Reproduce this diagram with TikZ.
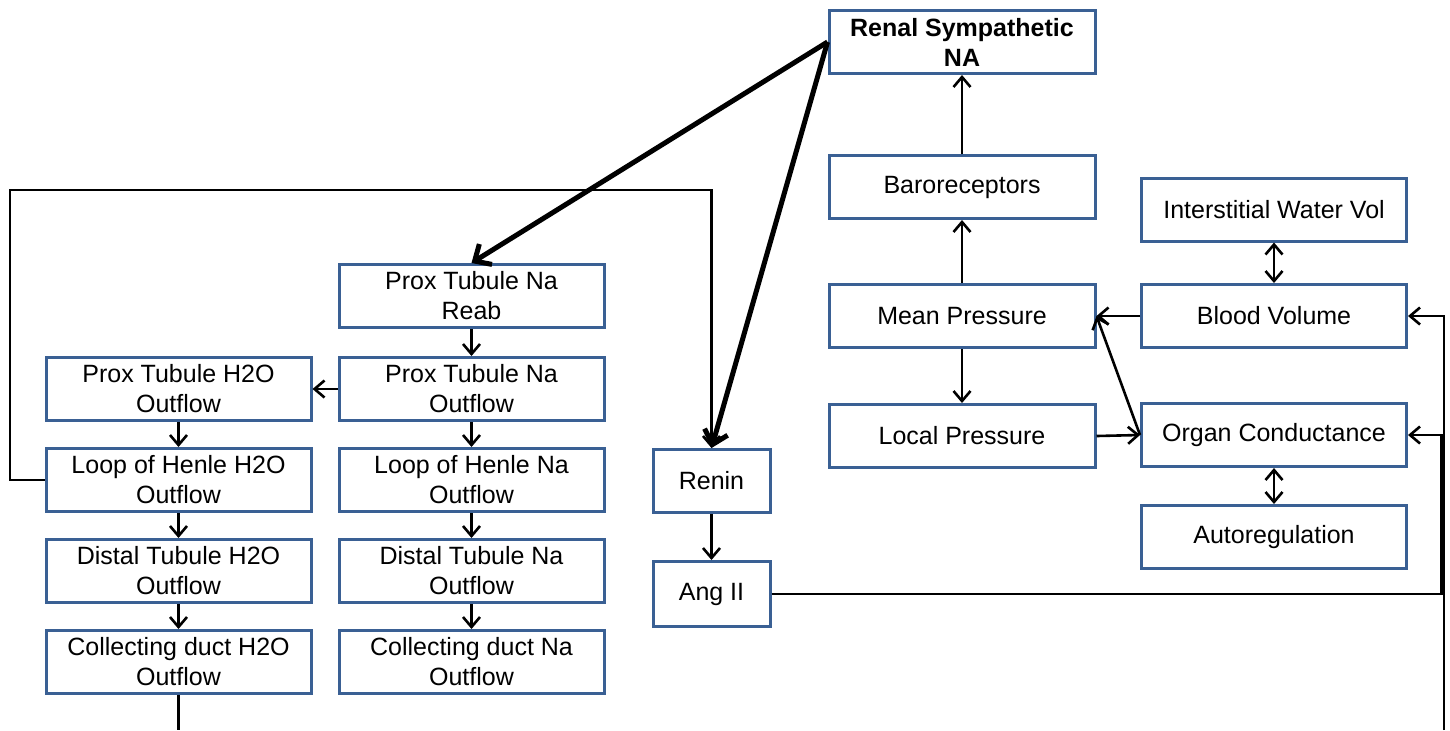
\documentclass[tikz,border=0pt]{standalone}
\usepackage{fontspec}
\setmainfont{Liberation Sans}
\usetikzlibrary{arrows.meta}
\definecolor{boxblue}{RGB}{58,96,148}
\begin{document}
\begin{tikzpicture}[x=0.5pt,y=-0.5pt,
  box/.style={draw=boxblue, line width=1.5pt, fill=white, minimum width=132.5pt, minimum height=31.5pt,
    inner sep=0pt, align=center, font=\fontsize{12.5}{15}\selectfont},
  sbox/.style={box, minimum width=58.5pt},
  conn/.style={line width=1.3pt, -{Straight Barb[length=5pt,width=8.5pt,line width=1.3pt]}},
  dconn/.style={line width=1.3pt, {Straight Barb[length=5pt,width=8.5pt,line width=1.3pt]}-{Straight Barb[length=5pt,width=8.5pt,line width=1.3pt]}},
  tconn/.style={line width=2.5pt, -{Straight Barb[length=6.5pt,width=12pt,line width=2.5pt]}},
  plain/.style={line width=1.3pt}]
\useasboundingbox (0,0) rectangle (1450,730);
% nodes
\node[box, minimum width=133pt, font=\bfseries\fontsize{12.5}{15}\selectfont] (rsna) at (962,42) {Renal Sympathetic\\NA};
\node[box, minimum width=133pt] (baro) at (962,187) {Baroreceptors};
\node[box] (iwv) at (1274,209.5) {Interstitial Water Vol};
\node[box] (ptnr) at (471.5,296) {Prox Tubule Na\\Reab};
\node[box, minimum width=133pt] (mp) at (962,316) {Mean Pressure};
\node[box] (bv) at (1274,316) {Blood Volume};
\node[box] (pth) at (178.5,389) {Prox Tubule H2O\\Outflow};
\node[box] (ptn) at (471.5,389) {Prox Tubule Na\\Outflow};
\node[box, minimum width=133pt] (lp) at (962,436) {Local Pressure};
\node[box] (oc) at (1274,435) {Organ Conductance};
\node[box] (lhh) at (178.5,480) {Loop of Henle H2O\\Outflow};
\node[box] (lhn) at (471.5,480) {Loop of Henle Na\\Outflow};
\node[sbox] (renin) at (711.5,481) {Renin};
\node[box] (auto) at (1274,537) {Autoregulation};
\node[box] (dth) at (178.5,571) {Distal Tubule H2O\\Outflow};
\node[box] (dtn) at (471.5,571) {Distal Tubule Na\\Outflow};
\node[sbox, minimum height=32.5pt] (ang) at (711.5,594) {Ang II};
\node[box] (cdh) at (178.5,662) {Collecting duct H2O\\Outflow};
\node[box] (cdn) at (471.5,662) {Collecting duct Na\\Outflow};
% coordinates
\coordinate (lk) at (10,190);
\coordinate (bl) at (178.5,730);
\coordinate (br) at (1444,730);
\coordinate (ar) at (1441.5,594);
% left loop
\draw[conn] (lhh.west) -| (lk) -| (renin.north);
% thick arrows
\draw[tconn] (rsna.west) -- (ptnr.north);
\draw[tconn] (rsna.west) -- (renin.north);
% chains
\draw[conn] (ptnr) -- (ptn);
\draw[conn] (ptn) -- (pth);
\draw[conn] (pth) -- (lhh);
\draw[conn] (lhh) -- (dth);
\draw[conn] (dth) -- (cdh);
\draw[conn] (ptn) -- (lhn);
\draw[conn] (lhn) -- (dtn);
\draw[conn] (dtn) -- (cdn);
\draw[conn] (renin) -- (ang);
% right part
\draw[conn] (baro) -- (rsna);
\draw[conn] (mp) -- (baro);
\draw[conn] (mp) -- (lp);
\draw[conn] (lp.east) -- (oc.west);
\draw[conn] (oc.west) -- (mp.east);
\draw[conn] (bv.west) -- (mp.east);
\draw[dconn] (iwv) -- (bv);
\draw[dconn] (oc) -- (auto);
% feedback lines
\draw[plain] (cdh.south) -- (bl);
\draw[conn] (br) |- (bv.east);
\draw[conn] (ang.east) -- (ar) |- (oc.east);
\end{tikzpicture}
\end{document}
